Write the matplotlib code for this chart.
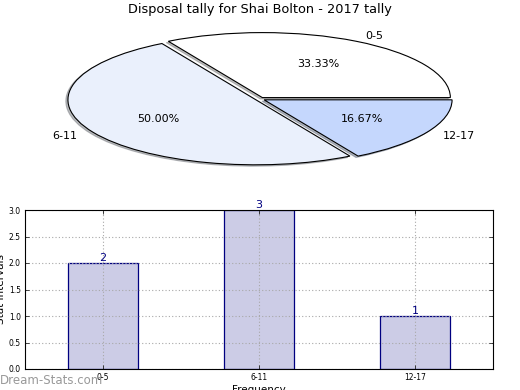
import matplotlib
matplotlib.use("Agg")
import matplotlib.pyplot as plt

categories = ["0-5", "6-11", "12-17"]
counts = [2, 3, 1]
pie_colors = ["#FFFFFF", "#EAF0FC", "#C5D7FD"]
title = "Disposal tally for Shai Bolton - 2017 tally"

W, H = 520, 390
fig = plt.figure(figsize=(W / 100, H / 100), dpi=100)

def px_axes(x0, y0, x1, y1):
    return fig.add_axes([x0 / W, 1 - y1 / H, (x1 - x0) / W, (y1 - y0) / H])

# Pie
axp = px_axes(30, 19, 490, 179)
wedges, texts, autotexts = axp.pie(
    counts, labels=categories, colors=pie_colors, autopct="%.2f%%",
    explode=[0.025, 0.025, 0.025],
    shadow=dict(ox=-0.008, oy=-0.015, shade=0.5, label="_nolegend_"),
    startangle=0, labeldistance=1.1, pctdistance=0.6,
    wedgeprops=dict(edgecolor="black", linewidth=0.8),
    textprops=dict(fontsize=8),
)
axp.set_aspect("auto")
axp.set_xlim(-230 / 188, 230 / 188)
axp.set_ylim(-80 / 65, 80 / 65)
axp.axis("off")
fig.text(260 / W, 1 - 10 / H, title, ha="center", va="center", fontsize=9.3)

# Bars
axb = px_axes(25, 210, 493, 369)
x = list(range(len(categories)))
bars = axb.bar(x, counts, width=0.45, color="#CCCCE6", edgecolor="#000080",
               linewidth=0.9, zorder=1)
for xi, v in zip(x, counts):
    axb.text(xi, v, str(v), ha="center", va="bottom", color="#000080",
             fontsize=8, zorder=3)
axb.set_xlim(-0.5, 2.5)
axb.set_ylim(0, 3)
axb.set_yticks([0, 0.5, 1.0, 1.5, 2.0, 2.5, 3.0])
axb.set_yticklabels(["0.0", "0.5", "1.0", "1.5", "2.0", "2.5", "3.0"])
axb.set_xticks(x)
axb.set_xticklabels(categories)
axb.tick_params(labelsize=5.5, direction="in", length=3, width=0.5,
                top=True, right=True, pad=3)
axb.set_axisbelow(False)
axb.grid(True, linestyle=(0, (1, 2)), color="#a8a8a8", linewidth=0.8)
for s in axb.spines.values():
    s.set_linewidth(0.8)
    s.set_zorder(4)
axb.set_ylabel("Stat Intervals", fontsize=7.5, labelpad=2)
axb.set_xlabel("Frequency", fontsize=7.5, labelpad=2)

fig.text(0, 1 - 380 / H, "Dream-Stats.com", ha="left", va="center",
         fontsize=8.5, color="#999999")

fig.savefig("out.png", dpi=100)
